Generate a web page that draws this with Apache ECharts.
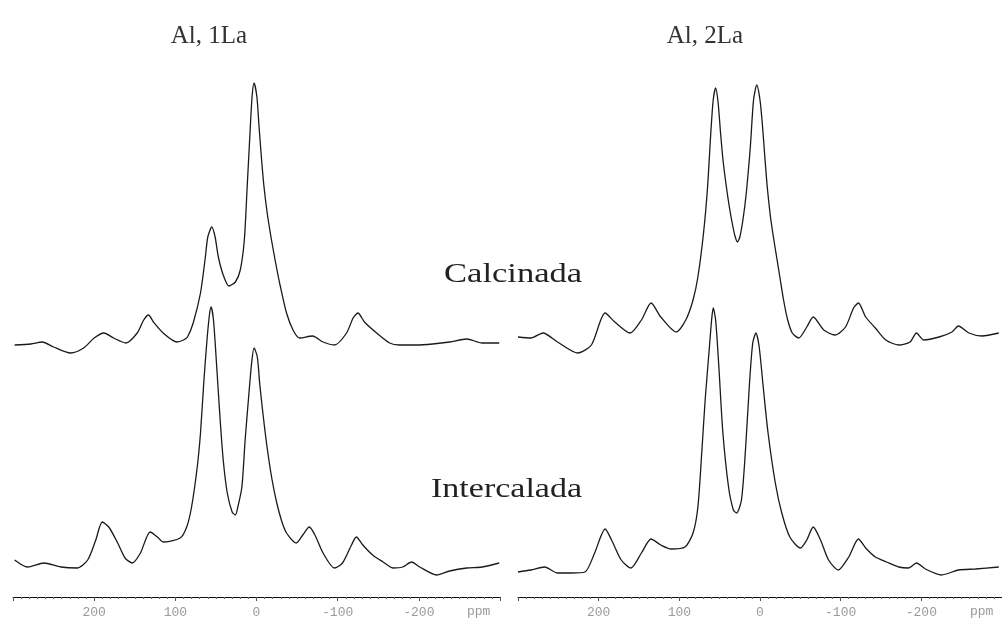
<!DOCTYPE html>
<html>
<head>
<meta charset="utf-8">
<script src="https://cdn.jsdelivr.net/npm/echarts@6/dist/echarts.min.js"></script>
<style>html,body{margin:0;padding:0;background:#fff;}#c{width:1002px;height:627px;}</style>
</head>
<body>
<div id="c"></div>
<script>
// ppm axis ticks
var tickValues = [200, 100, 0, -100, -200];
var panelTitles = ['Al, 1La', 'Al, 2La'];
var sampleLabels = ['Calcinada', 'Intercalada'];

// [ppm, stacked intensity (a.u.)]
var cal1La = [[298,252],[278,253],[264,255],[250,250],[229,244],[213,249],[200,259],[188,264],[176,259],[161,254],[147,264],[139,277],[133,282],[127,275],[115,264],[98,255],[90,257],[85,260],[78,274],[69,304],[63,340],[60,360],[55,370],[51,360],[47,340],[41,322],[34,311],[26,315],[20,327],[15,357],[11.5,410],[8,464],[5.5,500],[3,514],[-0.5,500],[-3,472],[-6,440],[-9,412],[-13,385],[-17,364],[-20,350],[-25,328],[-29,312],[-37,284],[-45,267],[-53,259],[-69,261],[-82,255],[-96,252],[-111,264],[-119,279],[-125,284],[-133,275],[-148,264],[-164,254],[-176,252],[-197,252],[-217,253],[-238,255],[-259,258],[-278,254],[-299,254]];
var int1La = [[298,37],[282,30],[262,34],[241,30],[221,29],[208,37],[198,57],[190,75],[182,70],[171,54],[162,39],[153,34],[143,44],[131,65],[122,60],[115,55],[94,59],[86,70],[80,90],[73,130],[69,164],[65,214],[61,257],[58,282],[56,290],[53,277],[49,230],[45,180],[41,137],[36,104],[30,85],[26,82],[23,90],[18,110],[14,157],[10,197],[6,234],[3,249],[-1,240],[-4,213],[-8,183],[-13,150],[-19,118],[-25,94],[-31,76],[-37,64],[-49,54],[-57,62],[-65,70],[-72,62],[-82,44],[-96,29],[-106,34],[-117,52],[-123,60],[-131,52],[-143,42],[-156,35],[-168,29],[-180,30],[-191,35],[-201,30],[-222,22],[-238,26],[-259,29],[-278,30],[-299,34]];
var cal2La = [[300,260],[284,259],[269,264],[251,255],[226,244],[209,252],[192,284],[180,275],[161,264],[147,277],[135,294],[123,280],[104,265],[92,277],[83,297],[77,320],[70,364],[65,410],[61,464],[58,497],[55,509],[52,495],[49,465],[46,438],[42,412],[38,390],[34,372],[31,361],[28,355],[25,360],[21,378],[17,404],[12,450],[8,497],[4,512],[0,497],[-3,472],[-6,440],[-9,410],[-13,380],[-17,358],[-21,338],[-25,318],[-29,298],[-34,278],[-40,264],[-48,259],[-58,270],[-66,280],[-79,267],[-93,262],[-106,270],[-116,289],[-122,294],[-131,280],[-143,269],[-156,257],[-172,252],[-186,255],[-194,264],[-203,257],[-222,260],[-238,265],[-246,271],[-259,264],[-275,261],[-296,264]];
var int2La = [[300,25],[284,27],[267,30],[251,24],[234,24],[217,25],[205,44],[192,68],[184,57],[172,37],[160,29],[147,44],[135,58],[123,52],[110,48],[93,50],[83,64],[77,90],[72,147],[68,197],[63,247],[60,277],[58,289],[55,277],[51,230],[46,164],[39,110],[33,87],[29,84],[23,97],[18,147],[13,214],[9,254],[5,264],[1,250],[-4,210],[-10,164],[-19,114],[-27,84],[-37,60],[-50,49],[-58,57],[-66,70],[-75,57],[-85,37],[-97,27],[-110,40],[-122,58],[-131,49],[-143,40],[-157,35],[-172,30],[-184,29],[-194,34],[-205,28],[-225,22],[-246,27],[-267,28],[-296,30]];

var chart = echarts.init(document.getElementById('c'), null, {renderer: 'canvas'});
var lineColor = '#1a1a1a';
function xAx(i) {
  return {
    gridIndex: i, type: 'value', min: -300, max: 300, interval: 100, inverse: true,
    axisLine: {show: true, onZero: false, lineStyle: {color: '#111', width: 1}},
    axisTick: {show: true, length: 4, lineStyle: {color: '#555'}},
    minorTick: {show: true, splitNumber: 10, length: 2, lineStyle: {color: '#666'}},
    splitLine: {show: false},
    axisLabel: {show: true, margin: 9, color: '#9a9a9a', fontFamily: 'Liberation Mono', fontSize: 13,
      showMinLabel: false, showMaxLabel: false,
      formatter: function (v) { return tickValues.indexOf(v) >= 0 ? String(v) : ''; }}
  };
}
function yAx(i) {
  return {gridIndex: i, type: 'value', min: 0, max: 540, show: false};
}
function ser(name, data, i) {
  return {name: name, type: 'line', xAxisIndex: i, yAxisIndex: i, data: data, showSymbol: false,
    smooth: 0.25, lineStyle: {color: lineColor, width: 1.3}, silent: true, animation: false};
}
var serifFont = 'Liberation Serif';
chart.setOption({
  animation: false,
  backgroundColor: '#fff',
  grid: [
    {left: 13, width: 487, top: 57, bottom: 30},
    {left: 518, width: 486, top: 57, bottom: 30}
  ],
  xAxis: [xAx(0), xAx(1)],
  yAxis: [yAx(0), yAx(1)],
  series: [
    ser(sampleLabels[0] + ' 1La', cal1La, 0),
    ser(sampleLabels[1] + ' 1La', int1La, 0),
    ser(sampleLabels[0] + ' 2La', cal2La, 1),
    ser(sampleLabels[1] + ' 2La', int2La, 1)
  ],
  graphic: [
    {type: 'text', x: 209, y: 49, scaleX: 1.0, style: {text: panelTitles[0], fontFamily: serifFont, fontSize: 25, fill: '#333', textAlign: 'center', textVerticalAlign: 'bottom'}},
    {type: 'text', x: 705, y: 49, scaleX: 1.0, style: {text: panelTitles[1], fontFamily: serifFont, fontSize: 25, fill: '#333', textAlign: 'center', textVerticalAlign: 'bottom'}},
    {type: 'text', x: 444, y: 288, scaleX: 1.28, style: {text: sampleLabels[0], fontFamily: serifFont, fontSize: 27, fill: '#222', textAlign: 'left', textVerticalAlign: 'bottom'}},
    {type: 'text', x: 431, y: 503, scaleX: 1.26, style: {text: sampleLabels[1], fontFamily: serifFont, fontSize: 27, fill: '#222', textAlign: 'left', textVerticalAlign: 'bottom'}},
    {type: 'text', x: 467, y: 605, style: {text: 'ppm', fontFamily: 'Liberation Mono', fontSize: 13, fill: '#9a9a9a'}},
    {type: 'text', x: 970, y: 605, style: {text: 'ppm', fontFamily: 'Liberation Mono', fontSize: 13, fill: '#9a9a9a'}}
  ]
});
</script>
</body>
</html>
